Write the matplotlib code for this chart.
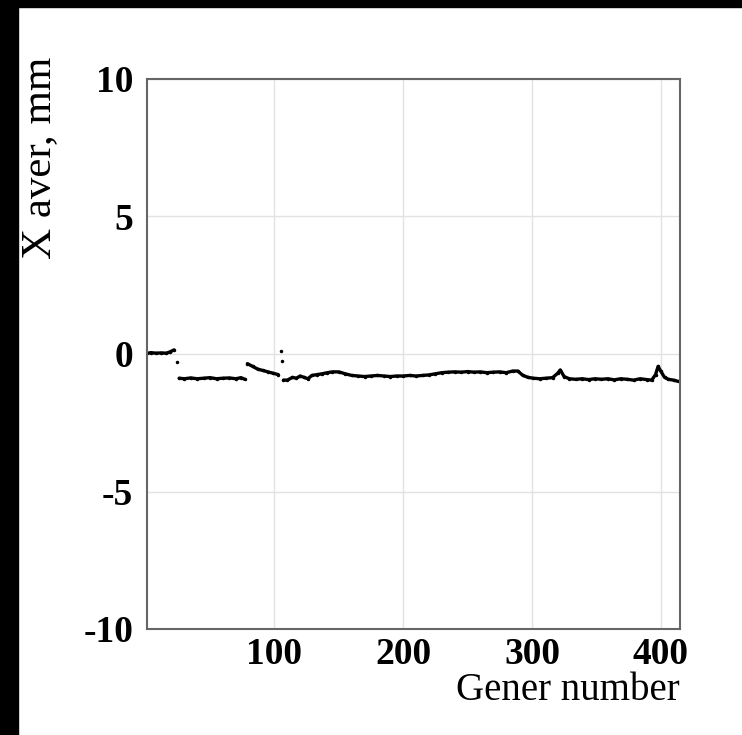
import matplotlib.pyplot as plt
import numpy as np
from matplotlib.patches import Rectangle

plt.rcParams['axes.unicode_minus'] = False

# generation number and averaged X (mm); None separates the gaps in the trace
gen = [1, 4, 8, 12, 16, 19, 22, None,
       24, None,
       26, 30, 35, 40, 45, 50, 55, 60, 65, 70, 74, 77, None,
       79, 83, 87, 91, 95, 99, 103, None,
       105, None,
       105.5, None,
       107, 110, 114, 117, 120, 123, 126, 129, 133, 137, 141, 145, 150, 155, 160,
       165, 170, 175, 180, 185, 190, 195, 200, 205, 210, 215, 220, 225, 230,
       235, 240, 245, 250, 255, 260, 265, 270, 275, 280, 285, 289, 293, 297,
       301, 306, 311, 316, 320, 322, 325, 329, 334, 339, 344, 349, 354, 359,
       364, 369, 374, 379, 384, 389, 393, 396, 398, 400, 403, 406, 410, 414]
x_aver = [0.02, 0.05, 0.03, 0.04, 0.03, 0.08, 0.15, None,
          -0.3, None,
          -0.88, -0.9, -0.87, -0.9, -0.88, -0.86, -0.9, -0.88, -0.87, -0.9, -0.86, -0.92, None,
          -0.35, -0.45, -0.55, -0.6, -0.65, -0.7, -0.75, None,
          0.1, None,
          -0.25, None,
          -0.95, -0.95, -0.85, -0.88, -0.8, -0.85, -0.9, -0.78, -0.75, -0.72, -0.68, -0.65, -0.65, -0.72, -0.78,
          -0.8, -0.82, -0.8, -0.78, -0.8, -0.82, -0.8, -0.8, -0.78, -0.8, -0.78, -0.76, -0.72, -0.68,
          -0.66, -0.65, -0.66, -0.64, -0.66, -0.65, -0.68, -0.66, -0.65, -0.68, -0.62, -0.62, -0.78, -0.85,
          -0.88, -0.9, -0.88, -0.86, -0.7, -0.58, -0.82, -0.9, -0.92, -0.9, -0.93, -0.9, -0.92, -0.9,
          -0.94, -0.9, -0.92, -0.95, -0.9, -0.93, -0.95, -0.75, -0.45, -0.62, -0.85, -0.92, -0.95, -1.0]

x_ticks = [100, 200, 300, 400]
y_ticks = [-10, -5, 0, 5, 10]

gen = np.array([np.nan if v is None else v for v in gen], dtype=float)
x_aver = np.array([np.nan if v is None else v for v in x_aver], dtype=float)

fig = plt.figure(figsize=(7.42, 7.35), dpi=100)
ax = fig.add_axes([147/742, 1 - 629/735, (680 - 147)/742, (629 - 79)/735])

ax.plot(gen, x_aver, color='black', lw=2.4, marker='.', ms=3, solid_capstyle='round')
ax.set_xlim(1, 415)
ax.set_ylim(-10, 10)
ax.set_xticks(x_ticks)
ax.set_yticks(y_ticks)
ax.grid(True, color='#e2e2e2', lw=1)
for s in ax.spines.values():
    s.set_color('#666666')
    s.set_linewidth(1.5)
ax.tick_params(length=0, pad=10)
ax.tick_params(axis='x', pad=6)
for lab in ax.get_xticklabels() + ax.get_yticklabels():
    lab.set_fontfamily('Liberation Serif')
    lab.set_fontweight('bold')
    lab.set_fontsize(27)

fig.text(680/742, 1 - 690/735, 'Gener number', ha='right', va='center',
         fontfamily='Liberation Serif', fontsize=28)
fig.text(40/742, 1 - 158/735, 'X aver, mm', rotation=90, ha='center', va='center',
         fontfamily='Liberation Serif', fontsize=31)

# dark frame of the scanned picture
fig.patches.append(Rectangle((0, 0), 18/742, 1, transform=fig.transFigure,
                             color='black', zorder=-1))
fig.patches.append(Rectangle((0, 1 - 7/735), 1, 7/735, transform=fig.transFigure,
                             color='black', zorder=-1))

fig.savefig('out.png', dpi=100)
